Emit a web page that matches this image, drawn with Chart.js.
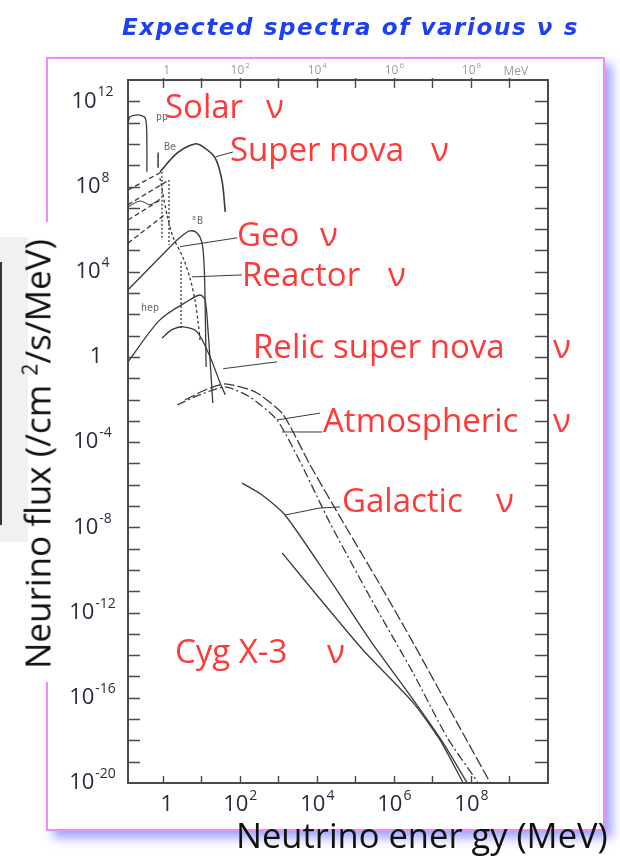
<!DOCTYPE html>
<html lang="en">
<head>
<meta charset="utf-8">
<title>Expected spectra of various neutrinos</title>
<script src="https://cdn.jsdelivr.net/npm/chart.js@4.4.1/dist/chart.umd.min.js"></script>
<style>
  html, body { margin: 0; padding: 0; background: #fff; }
  #page { position: relative; width: 620px; height: 856px; overflow: hidden; font-family: "Open Sans", sans-serif; }
  #frame { position: absolute; left: 46px; top: 57px; width: 555px; height: 770px; border: 2px solid #f08cf0; background: #fff; box-shadow: 7px 7px 10px rgba(110, 110, 255, 0.65); }
  #scrap { position: absolute; left: 0; top: 237px; width: 28px; height: 305px; background: #f1f1f1; }
  #scrapEdge { position: absolute; left: 0; top: 262px; width: 2px; height: 263px; background: #333; }
  #titleMask { position: absolute; left: 28px; top: 222px; width: 62px; height: 460px; background: #fff; }
  #chart { position: absolute; left: 0; top: 0; }
  .t { position: absolute; white-space: nowrap; line-height: 1; }
  .red { color: #ff3838; font-size: 33px; }
  #title { left: 122px; top: 14px; font: italic bold 23px "DejaVu Sans"; letter-spacing: 1.6px; color: #1f3ff2; }
  #xTitle { left: 236px; top: 818px; font-size: 34.5px; color: #111; }
  #yTitle { left: 37px; top: 454px; font-size: 35px; color: #111; transform: translate(-50%, -50%) rotate(-90deg); }
  #yTitle sup { font-size: 21px; }
</style>
</head>
<body>
<div id="page">
  <div id="scrap"></div>
  <div id="scrapEdge"></div>
  <div id="frame"></div>
  <div id="titleMask"></div>
  <canvas id="chart" width="620" height="856"></canvas>

  <div class="t" id="title">Expected spectra of various ν s</div>
  <div class="t" id="yTitle">Neurino flux (/cm <sup>2</sup>/s/MeV)</div>
  <div class="t" id="xTitle">Neutrino ener gy (MeV)</div>

  <div class="t red" style="left:165px; top:89px">Solar</div>
  <div class="t red" style="left:266px; top:89px">ν</div>
  <div class="t red" style="left:230px; top:132px">Super nova</div>
  <div class="t red" style="left:431px; top:132px">ν</div>
  <div class="t red" style="left:237px; top:217px">Geo</div>
  <div class="t red" style="left:320px; top:217px">ν</div>
  <div class="t red" style="left:242px; top:257px">Reactor</div>
  <div class="t red" style="left:388px; top:257px">ν</div>
  <div class="t red" style="left:253px; top:329px">Relic super nova</div>
  <div class="t red" style="left:553px; top:329px">ν</div>
  <div class="t red" style="left:323px; top:403px">Atmospheric</div>
  <div class="t red" style="left:553px; top:403px">ν</div>
  <div class="t red" style="left:342px; top:483px">Galactic</div>
  <div class="t red" style="left:496px; top:483px">ν</div>
  <div class="t red" style="left:175px; top:634px">Cyg X-3</div>
  <div class="t red" style="left:327px; top:634px">ν</div>
</div>

<script>
// Spectra as [energy (MeV), flux (/cm^2/s/MeV)] pairs
const ppSpectrum = [[0.126, 9.8e10], [0.142, 1.9e11], [0.23, 2.3e11], [0.35, 1.7e11], [0.385, 4.5e10], [0.39, 4.9e8]];
const be7Line = [[0.76, 7.5e8], [0.76, 4.0e9]];
const n13Spectrum = [[0.126, 6.9e7], [0.96, 4.9e8]];
const n13Edge = [[0.96, 4.9e8], [0.96, 3.1e5]];
const o15Spectrum = [[0.126, 1.4e7], [1.46, 2.0e8]];
const o15Edge = [[1.46, 2.0e8], [1.46, 1.8e5]];
const f17Spectrum = [[0.126, 2.7e6], [0.85, 2.3e7]];
const pepTrace = [[0.126, 1.1e7], [0.26, 2.1e7], [0.47, 1.4e7], [0.85, 2.6e7]];
const geoSpectrum = [[0.126, 2.2e5], [1.3, 5.8e6]];
const b8Spectrum = [[0.126, 1.4e3], [1.75, 1.8e5], [3.4, 5.4e5], [5.1, 8.3e5], [7.8, 6.6e5], [10.5, 2.2e5], [11.9, 2.1e4], [12.6, 4.8e2], [13.4, 0.34]];
const hepSpectrum = [[0.126, 0.59], [0.85, 55], [5.1, 480], [9.3, 810], [12.6, 480], [15, 19], [17, 0.72], [20, 6.9e-3]];
const reactorSpectrum = [[0.85, 2.5e8], [1.3, 4.7e6], [1.86, 4.3e5], [3.4, 4.5e4], [5.1, 5.1e3], [6.9, 480], [8.3, 44], [9.3, 6.3]];
const reactorEdge = [[3.0, 2.9e4], [3.0, 19]];
const supernovaSpectrum = [[0.85, 4.9e8], [2.4, 3.8e9], [6.9, 1.0e10], [11.2, 7.2e9], [23, 2.2e9], [35, 1.7e8], [42, 6.4e6]];
const relicSpectrum = [[0.96, 7.8], [1.75, 19], [3.4, 26], [7.8, 15], [17, 1.0], [31, 0.06], [42, 0.017]];
const atmosNuE = [[2.4, 5.6e-3], [7.8, 0.015], [42, 0.039], [186, 0.013], [930, 1.1e-3], [3.7e3, 1.2e-5], [2.2e4, 1.6e-8], [2.4e5, 5.4e-12], [3.2e6, 1.4e-15], [2.4e7, 1.4e-18], [1.5e8, 1.1e-20]];
const atmosNuMu = [[3.8, 9.5e-3], [12.6, 0.028], [42, 0.054], [250, 0.023], [1.3e3, 2.1e-3], [6.7e3, 8.5e-6], [4.0e4, 3.1e-8], [4.4e5, 2.0e-11], [3.2e6, 3.7e-14], [4.4e7, 6.6e-18], [3.2e8, 1.0e-20]];
const galacticSpectrum = [[115, 1.2e-6], [380, 3.3e-7], [1.5e3, 3.8e-8], [2.2e4, 3.4e-11], [2.4e5, 5.1e-14], [3.2e6, 7.9e-17], [1.9e7, 7.6e-19], [8.0e7, 1.0e-20]];
const cygX3Spectrum = [[1.26e3, 6.3e-10], [1.1e4, 5.4e-12], [1.6e5, 1.7e-14], [3.2e6, 5.8e-17], [1.6e7, 1.0e-18], [6.3e7, 1.0e-20]];

// leader lines from the red captions to their curves
const leaderSupernova = [[67, 4.2e9], [24, 2.5e9]];
const leaderGeo = [[85, 3.9e5], [2.8, 1.5e5]];
const leaderReactor = [[115, 7.1e3], [5.8, 5.7e3]];
const leaderRelic = [[930, 0.59], [37, 0.28]];
const leaderAtmosUpper = [[1.2e4, 2.3e-3], [930, 1.1e-3]];
const leaderAtmosLower = [[1.4e4, 3.0e-4], [1.26e3, 3.0e-4]];
const leaderGalactic = [[4.0e4, 9.1e-8], [1.2e4, 8.1e-8], [1.5e3, 3.8e-8]];

// axis ranges and labelled decades
const energyMin = 0.126;
const energyMax = 1e10;
const fluxMin = 1e-20;
const fluxMax = 1e13;
const fluxLabelExps = [12, 8, 4, 0, -4, -8, -12, -16, -20];
const energyLabelExps = [0, 2, 4, 6, 8];

// small tags printed next to the solar curves
const solarTags = [
  { text: 'pp', at: [0.96, 1.7e11] },
  { text: 'Be', at: [1.55, 7.2e9] },
  { text: '⁸B', at: [7.8, 2.2e6] },
  { text: 'hep', at: [0.47, 180] },
];

const INK = '#3a3a3a';
const AXIS = '#4a4a4a';

function curve(points, extra) {
  return Object.assign({
    data: points.map(([x, y]) => ({ x, y })),
    borderColor: INK,
    borderWidth: 1.3,
    pointRadius: 0,
    tension: 0.3,
    fill: false,
  }, extra);
}

const DASH = [5, 3];
const DOT = [2, 2];

const datasets = [
  curve(ppSpectrum, { tension: 0.25 }),
  curve(be7Line, { tension: 0, borderWidth: 1.5 }),
  curve(n13Spectrum, { tension: 0, borderDash: DASH }),
  curve(n13Edge, { tension: 0, borderDash: DOT }),
  curve(o15Spectrum, { tension: 0, borderDash: DASH }),
  curve(o15Edge, { tension: 0, borderDash: DOT }),
  curve(f17Spectrum, { tension: 0, borderDash: DASH }),
  curve(pepTrace, { borderWidth: 1 }),
  curve(geoSpectrum, { tension: 0, borderDash: DASH }),
  curve(b8Spectrum),
  curve(hepSpectrum),
  curve(reactorSpectrum, { borderDash: [3, 2.5] }),
  curve(reactorEdge, { tension: 0, borderDash: DOT }),
  curve(supernovaSpectrum, { borderWidth: 1.6 }),
  curve(relicSpectrum),
  curve(atmosNuE, { tension: 0.2, borderDash: [9, 3, 2, 3] }),
  curve(atmosNuMu, { tension: 0.2, borderDash: [11, 3] }),
  curve(galacticSpectrum, { tension: 0.2 }),
  curve(cygX3Spectrum, { tension: 0.2 }),
  curve(leaderSupernova, { tension: 0, borderWidth: 1 }),
  curve(leaderGeo, { tension: 0, borderWidth: 1 }),
  curve(leaderReactor, { tension: 0, borderWidth: 1 }),
  curve(leaderRelic, { tension: 0, borderWidth: 1 }),
  curve(leaderAtmosUpper, { tension: 0, borderWidth: 1 }),
  curve(leaderAtmosLower, { tension: 0, borderWidth: 1 }),
  curve(leaderGalactic, { tension: 0, borderWidth: 1 }),
];

function drawPower(ctx, cx, cy, exp, size) {
  const font = px => `${px}px "Open Sans", sans-serif`;
  ctx.textBaseline = 'middle';
  if (exp === 0) {
    ctx.font = font(size);
    ctx.textAlign = 'center';
    ctx.fillText('1', cx + 4, cy);
    return;
  }
  const supSize = Math.round(size * 0.64);
  const sup = String(exp);
  ctx.font = font(size);
  const wb = ctx.measureText('10').width;
  ctx.font = font(supSize);
  const ws = ctx.measureText(sup).width;
  const left = cx - (wb + ws) / 2;
  ctx.textAlign = 'left';
  ctx.font = font(size);
  ctx.fillText('10', left, cy);
  ctx.font = font(supSize);
  ctx.fillText(sup, left + wb + 1, cy - size * 0.4);
}

// inward ticks on all four sides, decade labels, and the small solar tags
const frameDecor = {
  id: 'frameDecor',
  afterDraw(chart) {
    const { ctx, chartArea: a } = chart;
    const x = chart.scales.x;
    const y = chart.scales.y;
    ctx.save();
    ctx.strokeStyle = AXIS;
    ctx.lineWidth = 1.4;
    ctx.beginPath();
    for (let e = -19; e <= 12; e++) {
      const py = Math.round(y.getPixelForValue(Math.pow(10, e))) + 0.5;
      ctx.moveTo(a.left, py); ctx.lineTo(a.left + 12, py);
      ctx.moveTo(a.right, py); ctx.lineTo(a.right - 13, py);
    }
    for (let e = 0; e <= 9; e++) {
      const px = Math.round(x.getPixelForValue(Math.pow(10, e))) + 0.5;
      ctx.moveTo(px, a.bottom); ctx.lineTo(px, a.bottom - 7);
      ctx.moveTo(px, a.top - 2); ctx.lineTo(px, a.top + 8);
    }
    ctx.stroke();

    ctx.fillStyle = '#2a2a3e';
    fluxLabelExps.forEach(e => drawPower(ctx, 92, y.getPixelForValue(Math.pow(10, e)), e, 22));
    energyLabelExps.forEach(e => drawPower(ctx, x.getPixelForValue(Math.pow(10, e)), 805, e, 22));

    ctx.fillStyle = '#9c9c9c';
    energyLabelExps.forEach(e => drawPower(ctx, x.getPixelForValue(Math.pow(10, e)), 71, e, 12));
    ctx.font = '12px "Open Sans", sans-serif';
    ctx.textAlign = 'left';
    ctx.fillText('MeV', x.getPixelForValue(1e9) - 6, 72);

    ctx.fillStyle = '#6a6a6a';
    ctx.font = '10px "DejaVu Sans Mono", monospace';
    ctx.textAlign = 'center';
    solarTags.forEach(tag => {
      ctx.fillText(tag.text, x.getPixelForValue(tag.at[0]), y.getPixelForValue(tag.at[1]));
    });
    ctx.restore();
  },
};

function logAxis(axis, position, min, max) {
  return {
    type: 'logarithmic',
    axis,
    position,
    min,
    max,
    bounds: 'data',
    ticks: { display: false },
    grid: { display: false },
    border: { display: true, color: AXIS, width: 2 },
    afterFit(scale) {
      if (axis === 'x') scale.height = 0; else scale.width = 0;
    },
  };
}

new Chart(document.getElementById('chart'), {
  type: 'line',
  data: { datasets },
  options: {
    responsive: false,
    animation: false,
    events: [],
    layout: { padding: { left: 128, right: 72, top: 80, bottom: 73 } },
    plugins: { legend: { display: false }, tooltip: { enabled: false } },
    scales: {
      x: logAxis('x', 'bottom', energyMin, energyMax),
      x2: logAxis('x', 'top', energyMin, energyMax),
      y: logAxis('y', 'left', fluxMin, fluxMax),
      y2: logAxis('y', 'right', fluxMin, fluxMax),
    },
  },
  plugins: [frameDecor],
});
</script>
</body>
</html>
